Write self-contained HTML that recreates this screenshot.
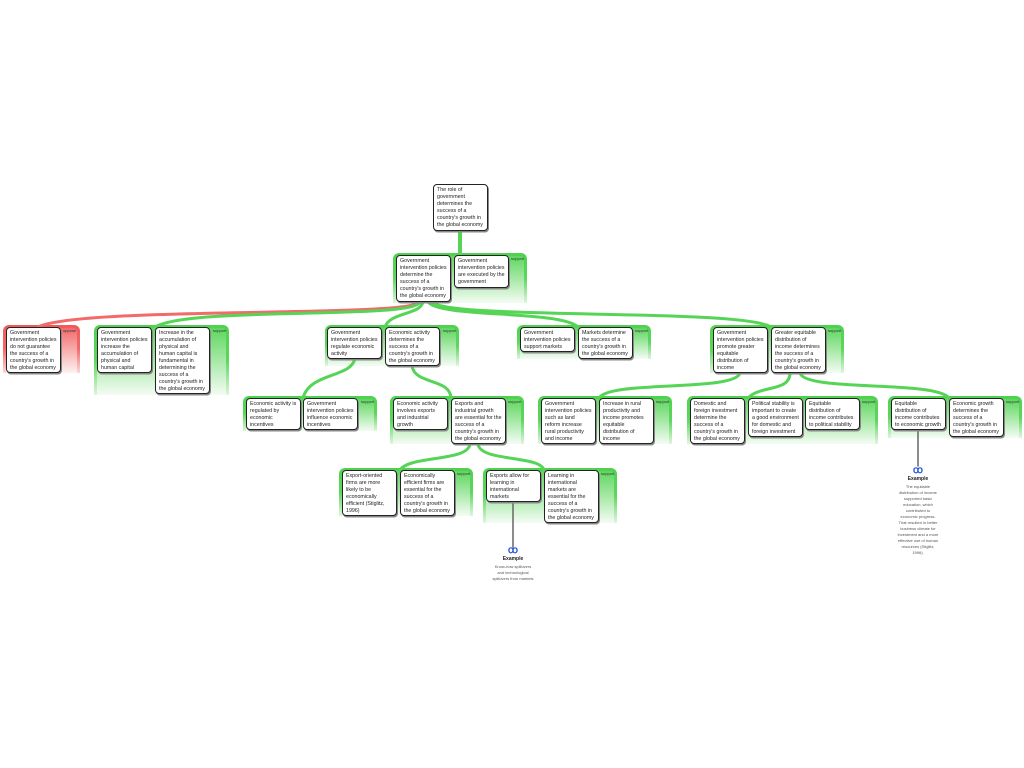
<!DOCTYPE html>
<html><head><meta charset="utf-8"><style>
body{margin:0;width:1024px;height:768px;background:#fff;position:relative;overflow:hidden;font-family:"Liberation Sans",sans-serif}
.g{position:absolute;border-radius:6px 6px 0 0;background:linear-gradient(to bottom,#4fd24f 0%,#5cd65c 50%,rgba(120,220,120,0.25) 100%)}
.g::after{content:"";position:absolute;left:3px;right:3px;top:3px;bottom:0;border-radius:4px 4px 0 0;background:linear-gradient(to bottom,#5fd75f 0%,#a8e9a8 50%,#f4fcf4 100%)}
.g.r{background:linear-gradient(to bottom,#f05a5a 0%,#f26a6a 50%,rgba(240,100,100,0.25) 100%)}
.g.r::after{background:linear-gradient(to bottom,#f36a6a 0%,#f8aeae 50%,#fdf2f2 100%)}
.lab{position:absolute;font-size:4px;color:#333;z-index:2}
.b{position:absolute;z-index:3;background:#fff;border:1.3px solid #222;border-radius:4px;box-shadow:1px 1.5px 0 #888;font-size:5.3px;line-height:7px;color:#222;padding:2px 3px;box-sizing:border-box;white-space:nowrap;overflow:hidden}
svg{position:absolute;left:0;top:0;z-index:1}
.ex{position:absolute;z-index:3;text-align:center;font-size:4px;line-height:6px;color:#555}
.ex b{display:block;font-size:5px;color:#222;margin-bottom:2px}
.ic{color:#2a5bd7;font-size:10px;font-weight:bold;line-height:10px}
</style></head><body>
<svg width="1024" height="768">
<g fill="none" stroke-linecap="round">
<path d="M460 231 C460 245 460 245 460 255" stroke="#55d455" stroke-width="4"/>
<path d="M418 302 C410 318 80 306 38 327" stroke="#f26a6a" stroke-width="3"/>
<path d="M420 302 C412 320 190 306 155 327" stroke="#55d455" stroke-width="3"/>
<path d="M423 302 C420 315 390 312 385 327" stroke="#55d455" stroke-width="3"/>
<path d="M428 302 C440 318 560 310 578 327" stroke="#55d455" stroke-width="3"/>
<path d="M432 302 C450 320 740 308 771 327" stroke="#55d455" stroke-width="3"/>
<path d="M355 358 C352 378 310 372 303 398" stroke="#55d455" stroke-width="3"/>
<path d="M412 366 C415 385 450 378 451 398" stroke="#55d455" stroke-width="3"/>
<path d="M740 373 C735 392 610 380 599 398" stroke="#55d455" stroke-width="3"/>
<path d="M790 373 C790 392 760 385 748 398" stroke="#55d455" stroke-width="3"/>
<path d="M800 373 C805 392 935 380 949 398" stroke="#55d455" stroke-width="3"/>
<path d="M470 444 C468 462 410 455 400 470" stroke="#55d455" stroke-width="3"/>
<path d="M478 444 C480 462 540 455 544 470" stroke="#55d455" stroke-width="3"/>
<path d="M513 502 L513 547" stroke="#666" stroke-width="1.5"/>
<path d="M918 430 L918 466" stroke="#666" stroke-width="1.5"/>
</g></svg>

<div class="b" style="left:433px;top:184px;width:55px;height:47px">The role of<br>government<br>determines the<br>success of a<br>country's growth in<br>the global economy</div>

<div class="g" style="left:393px;top:253px;width:134px;height:50px"></div><div class="lab" style="left:511px;top:256px">support</div>
<div class="b" style="left:396px;top:255px;width:55px;height:47px">Government<br>intervention policies<br>determine the<br>success of a<br>country's growth in<br>the global economy</div>
<div class="b" style="left:454px;top:255px;width:55px;height:33px">Government<br>intervention policies<br>are executed by the<br>government</div>

<div class="g r" style="left:3px;top:325px;width:77px;height:48px"></div><div class="lab" style="left:63px;top:328px">oppose</div>
<div class="b" style="left:6px;top:327px;width:55px;height:46px">Government<br>intervention policies<br>do not guarantee<br>the success of a<br>country's growth in<br>the global economy</div>

<div class="g" style="left:94px;top:325px;width:135px;height:70px"></div><div class="lab" style="left:213px;top:328px">support</div>
<div class="b" style="left:97px;top:327px;width:55px;height:46px">Government<br>intervention policies<br>increase the<br>accumulation of<br>physical and<br>human capital</div>
<div class="b" style="left:155px;top:327px;width:55px;height:67px">Increase in the<br>accumulation of<br>physical and<br>human capital is<br>fundamental in<br>determining the<br>success of a<br>country's growth in<br>the global economy</div>

<div class="g" style="left:325px;top:325px;width:134px;height:41px"></div><div class="lab" style="left:443px;top:328px">support</div>
<div class="b" style="left:327px;top:327px;width:55px;height:32px">Government<br>intervention policies<br>regulate economic<br>activity</div>
<div class="b" style="left:385px;top:327px;width:55px;height:39px">Economic activity<br>determines the<br>success of a<br>country's growth in<br>the global economy</div>

<div class="g" style="left:517px;top:325px;width:134px;height:34px"></div><div class="lab" style="left:635px;top:328px">support</div>
<div class="b" style="left:520px;top:327px;width:55px;height:25px">Government<br>intervention policies<br>support  markets</div>
<div class="b" style="left:578px;top:327px;width:55px;height:32px">Markets determine<br>the success of a<br>country's growth in<br>the global economy</div>

<div class="g" style="left:710px;top:325px;width:134px;height:48px"></div><div class="lab" style="left:828px;top:328px">support</div>
<div class="b" style="left:713px;top:327px;width:55px;height:46px">Government<br>intervention policies<br>promote greater<br>equitable<br>distribution of<br>income</div>
<div class="b" style="left:771px;top:327px;width:55px;height:46px">Greater equitable<br>distribution of<br>income determines<br>the success of a<br>country's growth in<br>the global economy</div>

<div class="g" style="left:243px;top:396px;width:134px;height:35px"></div><div class="lab" style="left:361px;top:399px">support</div>
<div class="b" style="left:246px;top:398px;width:55px;height:32px">Economic activity is<br>regulated by<br>economic<br>incentives</div>
<div class="b" style="left:303px;top:398px;width:55px;height:32px">Government<br>intervention policies<br>influence economic<br>incentives</div>

<div class="g" style="left:390px;top:396px;width:134px;height:48px"></div><div class="lab" style="left:508px;top:399px">support</div>
<div class="b" style="left:393px;top:398px;width:55px;height:32px">Economic activity<br>involves exports<br>and industrial<br>growth</div>
<div class="b" style="left:451px;top:398px;width:55px;height:46px">Exports and<br>industrial growth<br>are essential for the<br>success of a<br>country's growth in<br>the global economy</div>

<div class="g" style="left:538px;top:396px;width:134px;height:48px"></div><div class="lab" style="left:656px;top:399px">support</div>
<div class="b" style="left:541px;top:398px;width:55px;height:46px">Government<br>intervention policies<br>such as land<br>reform increase<br>rural productivity<br>and income</div>
<div class="b" style="left:599px;top:398px;width:55px;height:46px">Increase in rural<br>productivity and<br>income promotes<br>equitable<br>distribution of<br>income</div>

<div class="g" style="left:687px;top:396px;width:191px;height:48px"></div><div class="lab" style="left:862px;top:399px">support</div>
<div class="b" style="left:690px;top:398px;width:55px;height:46px">Domestic and<br>foreign investment<br>determine the<br>success of a<br>country's growth in<br>the global economy</div>
<div class="b" style="left:748px;top:398px;width:55px;height:39px">Political stability is<br>important to create<br>a good environment<br>for domestic and<br>foreign investment</div>
<div class="b" style="left:805px;top:398px;width:55px;height:32px">Equitable<br>distribution of<br>income contributes<br>to political stability</div>

<div class="g" style="left:888px;top:396px;width:134px;height:42px"></div><div class="lab" style="left:1006px;top:399px">support</div>
<div class="b" style="left:891px;top:398px;width:55px;height:32px">Equitable<br>distribution of<br>income contributes<br>to economic growth</div>
<div class="b" style="left:949px;top:398px;width:55px;height:39px">Economic growth<br>determines the<br>success of a<br>country's growth in<br>the global economy</div>

<div class="g" style="left:339px;top:468px;width:134px;height:48px"></div><div class="lab" style="left:457px;top:471px">support</div>
<div class="b" style="left:342px;top:470px;width:55px;height:46px">Export-oriented<br>firms are more<br>likely to be<br>economically<br>efficient (Stiglitz,<br>1996)</div>
<div class="b" style="left:400px;top:470px;width:55px;height:46px">Economically<br>efficient firms are<br>essential for the<br>success of a<br>country's growth in<br>the global economy</div>

<div class="g" style="left:483px;top:468px;width:134px;height:55px"></div><div class="lab" style="left:601px;top:471px">support</div>
<div class="b" style="left:486px;top:470px;width:55px;height:32px">Exports allow for<br>learning in<br>international<br>markets</div>
<div class="b" style="left:544px;top:470px;width:55px;height:53px">Learning in<br>international<br>markets are<br>essential for the<br>success of a<br>country's growth in<br>the global economy</div>

<div class="ex" style="left:483px;top:546px;width:60px"><div class="ic">ꝏ</div><b>Example</b>Know-how spillovers<br>and technological<br>spillovers from markets</div>
<div class="ex" style="left:888px;top:466px;width:60px"><div class="ic">ꝏ</div><b>Example</b>The equitable<br>distribution of income<br>supported basic<br>education, which<br>contributed to<br>economic progress.<br>That resulted in better<br>business climate for<br>investment and a more<br>effective use of human<br>resources (Stiglitz,<br>1996).</div>
</body></html>
